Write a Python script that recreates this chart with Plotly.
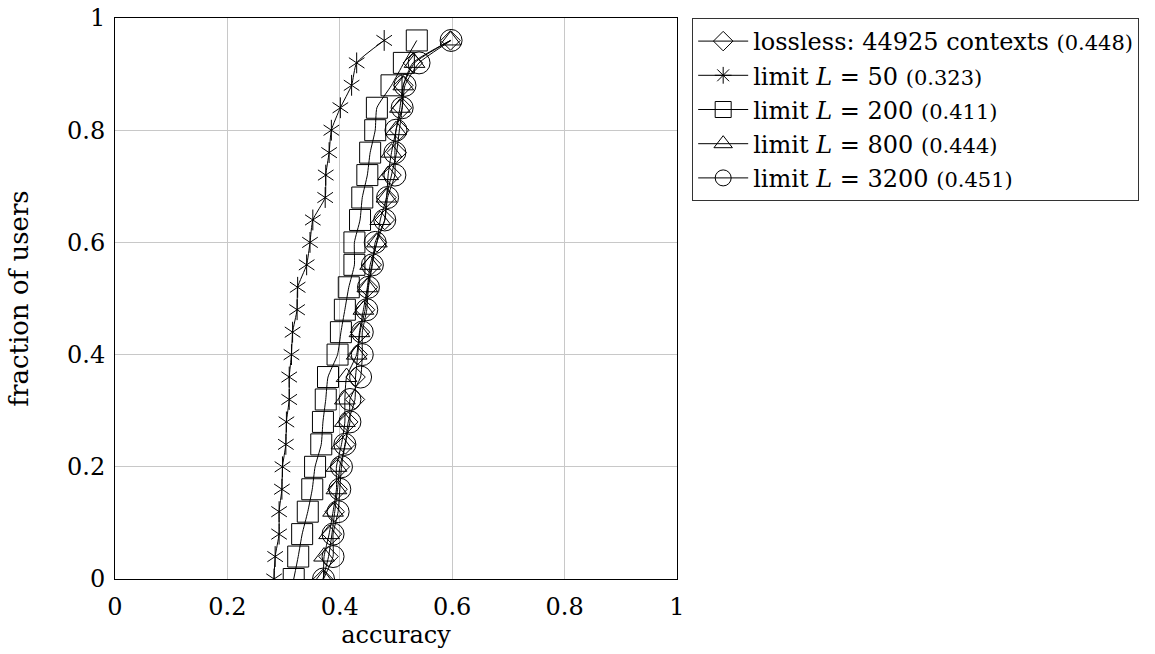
import plotly.graph_objects as go

# fraction of users (sorted CDF positions)
fraction = [0.00, 0.04, 0.08, 0.12, 0.16, 0.20, 0.24, 0.28, 0.32, 0.36,
            0.40, 0.44, 0.48, 0.52, 0.56, 0.60, 0.64, 0.68, 0.72, 0.76,
            0.80, 0.84, 0.88, 0.92, 0.96]

acc_lossless = [0.370, 0.380, 0.386, 0.391, 0.396, 0.400, 0.410, 0.415, 0.427, 0.428,
                0.432, 0.436, 0.445, 0.450, 0.457, 0.466, 0.480, 0.483, 0.492, 0.501,
                0.506, 0.511, 0.513, 0.530, 0.597]
acc_L50 = [0.283, 0.285, 0.292, 0.292, 0.297, 0.298, 0.304, 0.305, 0.310, 0.310,
           0.314, 0.316, 0.324, 0.325, 0.341, 0.347, 0.352, 0.374, 0.375, 0.381,
           0.385, 0.401, 0.421, 0.430, 0.479]
acc_L200 = [0.318, 0.326, 0.333, 0.343, 0.351, 0.356, 0.367, 0.370, 0.375, 0.379,
            0.396, 0.402, 0.409, 0.416, 0.426, 0.426, 0.436, 0.440, 0.449, 0.454,
            0.463, 0.466, 0.492, 0.514, 0.537]
acc_L800 = [0.371, 0.372, 0.381, 0.388, 0.394, 0.394, 0.403, 0.409, 0.409, 0.412,
            0.430, 0.435, 0.442, 0.449, 0.454, 0.466, 0.472, 0.483, 0.486, 0.492,
            0.500, 0.507, 0.513, 0.533, 0.597]
acc_L3200 = [0.371, 0.388, 0.388, 0.397, 0.400, 0.403, 0.409, 0.418, 0.418, 0.437,
             0.440, 0.440, 0.448, 0.451, 0.458, 0.463, 0.480, 0.485, 0.498, 0.498,
             0.500, 0.511, 0.516, 0.541, 0.598]

labels = [
    "lossless: 44925 contexts <span style='font-size:21px'>(0.448)</span>",
    "limit <i>L</i> = 50 <span style='font-size:21px'>(0.323)</span>",
    "limit <i>L</i> = 200 <span style='font-size:21px'>(0.411)</span>",
    "limit <i>L</i> = 800 <span style='font-size:21px'>(0.444)</span>",
    "limit <i>L</i> = 3200 <span style='font-size:21px'>(0.451)</span>",
]

FONT = "DejaVu Serif"
INK = "black"
line_style = dict(color=INK, width=1, shape="spline", smoothing=0.5)

fig = go.Figure()


def add_series(acc, name, symbol, size):
    fig.add_trace(go.Scatter(
        x=acc, y=fraction, mode="lines+markers", name=name,
        line=line_style,
        marker=dict(symbol=symbol, size=size, color=INK,
                    line=dict(color=INK, width=1)),
    ))


add_series(acc_lossless, labels[0], "diamond-open", 15)

# six-armed star: vertical arm plus two diagonals, built from y-up and y-down
fig.add_trace(go.Scatter(
    x=acc_L50, y=fraction, mode="lines+markers", showlegend=False,
    line=line_style,
    marker=dict(symbol="y-up-open", size=13, color=INK, line=dict(color=INK, width=1)),
))
fig.add_trace(go.Scatter(
    x=acc_L50, y=fraction, mode="markers", showlegend=False,
    marker=dict(symbol="y-down-open", size=13, color=INK, line=dict(color=INK, width=1)),
))
fig.add_trace(go.Scatter(
    x=[None], y=[None], mode="lines+markers", name=labels[1],
    line=line_style,
    marker=dict(symbol="asterisk-open", size=14, color=INK, line=dict(color=INK, width=1)),
))

add_series(acc_L200, labels[2], "square-open", 21)
add_series(acc_L800, labels[3], "triangle-up-open", 18)
add_series(acc_L3200, labels[4], "circle-open", 22)

tickvals = [0, 0.2, 0.4, 0.6, 0.8, 1]
ticktext = ["0", "0.2", "0.4", "0.6", "0.8", "1"]

axis_common = dict(
    range=[0, 1], tickvals=tickvals, ticktext=ticktext,
    showgrid=True, gridcolor="#c8c8c8", gridwidth=1,
    showline=True, linecolor=INK, linewidth=1, mirror=True,
    zeroline=False, ticks="", automargin=False,
    tickfont=dict(family=FONT, size=24, color=INK),
)

fig.update_layout(
    width=1155, height=654,
    margin=dict(l=115, r=478, t=18, b=75),
    paper_bgcolor="white", plot_bgcolor="white",
    font=dict(family=FONT, color=INK),
    xaxis=dict(**axis_common, ticklabelstandoff=6,
               title=dict(text="accuracy", font=dict(family=FONT, size=24), standoff=6)),
    yaxis=dict(**axis_common, ticklabelstandoff=4,
               title=dict(text="fraction of users", font=dict(family=FONT, size=26), standoff=30)),
    legend=dict(
        x=1.027, y=1, xanchor="left", yanchor="top",
        bgcolor="white", bordercolor="#333333", borderwidth=1,
        font=dict(family=FONT, size=24, color=INK),
        itemwidth=50, tracegroupgap=0,
    ),
)

fig.write_html("out.html")
